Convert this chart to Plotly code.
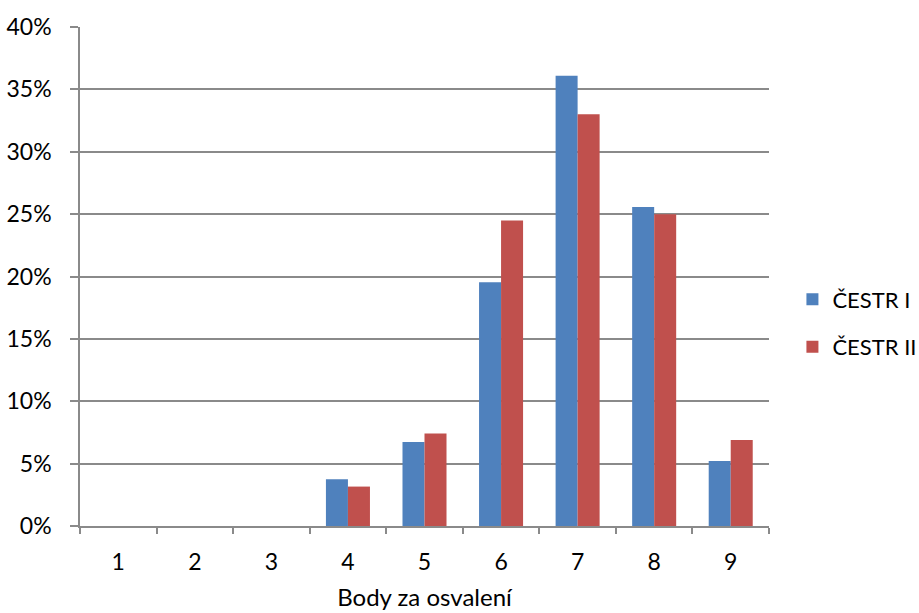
import plotly.graph_objects as go

categories = ["1", "2", "3", "4", "5", "6", "7", "8", "9"]
cestr1 = [0, 0, 0, 0.0375, 0.0674, 0.1953, 0.361, 0.2558, 0.0522]
cestr2 = [0, 0, 0, 0.0316, 0.0741, 0.2448, 0.330, 0.250, 0.069]
series_names = ["ČESTR I", "ČESTR II"]
colors = ["#4F81BD", "#C0504D"]

font = dict(family="Lato, Carlito, 'Open Sans', sans-serif", size=23, color="#000000")
title_font = dict(family="Lato, Carlito, 'Open Sans', sans-serif", size=24, color="#000000")
grid = "#8A8A8A"

fig = go.Figure()
for i, (name, vals) in enumerate(zip(series_names, [cestr1, cestr2])):
    fig.add_trace(go.Bar(
        x=categories, y=vals, name=name, legendgroup=name,
        marker=dict(color=colors[i], line=dict(width=0)),
    ))

fig.update_layout(
    width=919, height=613,
    margin=dict(l=80, r=149.5, t=27, b=87, autoexpand=False),
    paper_bgcolor="white", plot_bgcolor="white",
    font=font,
    barmode="group", bargap=0.425, bargroupgap=0,
    legend=dict(x=1.034, xanchor="left", y=0.406, yanchor="middle",
                traceorder="grouped", tracegroupgap=16,
                font=dict(family=font["family"], size=22, color="#000000"),
                bgcolor="rgba(0,0,0,0)"),
    xaxis=dict(type="category", tickson="boundaries", ticks="outside",
               ticklen=6, tickcolor=grid, tickwidth=1.5,
               ticklabelstandoff=15,
               showline=True, linecolor=grid, linewidth=1.5,
               showgrid=False,
               title=dict(text="Body za osvalení", font=title_font, standoff=15)),
    yaxis=dict(range=[0, 0.4], dtick=0.05, tickformat=".0%",
               showgrid=True, gridcolor=grid, gridwidth=1.5,
               showline=True, linecolor=grid, linewidth=1.5,
               ticks="outside", ticklen=8, tickcolor=grid, tickwidth=1.5,
               ticklabelstandoff=14,
               zeroline=False),
)

fig.write_html("out.html")
